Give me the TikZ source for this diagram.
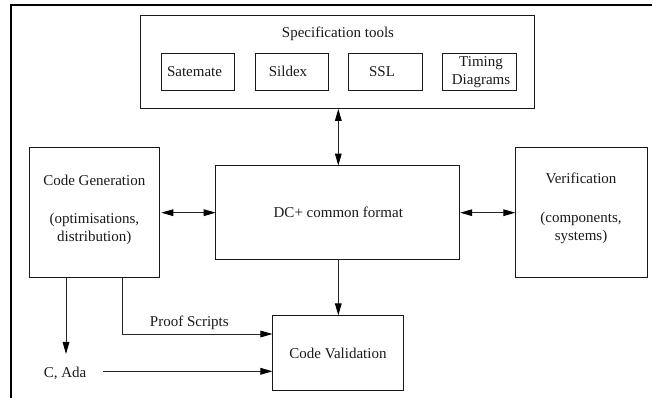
\documentclass[tikz,border=0pt]{standalone}
\usepackage{fontspec}
\setmainfont{Liberation Serif}
\usetikzlibrary{arrows.meta}
\tikzset{
  box/.style={draw=black!90,line width=0.72pt,inner sep=0pt,outer sep=0pt},
  txt/.style={anchor=base,inner sep=0pt,outer sep=0pt,text=black!90,font=\fontsize{11.25pt}{13pt}\selectfont},
  conn/.style={draw=black!85,line width=0.72pt,-{Triangle[length=9pt,width=5pt,color=black]}},
  biconn/.style={draw=black!85,line width=0.72pt,{Triangle[length=9pt,width=5pt,color=black]}-{Triangle[length=9pt,width=5pt,color=black]}},
  frameline/.style={draw=black,line width=1.6pt}
}
\begin{document}
\begin{tikzpicture}[x=0.75pt,y=-0.75pt]
\useasboundingbox (0,0) rectangle (652,398);
\draw[frameline] (11,398) -- (11,5) -- (652,5);
% boxes
\node[box,minimum width=295.5pt,minimum height=70.1pt] (spec) at (337.6,62.2) {};
\node[box,minimum width=55.1pt,minimum height=28.1pt] (sate) at (197.8,71.8) {};
\node[box,minimum width=55.3pt,minimum height=28.1pt] (sild) at (291.9,71.8) {};
\node[box,minimum width=55.5pt,minimum height=28.1pt] (ssl) at (385.5,71.8) {};
\node[box,minimum width=55.3pt,minimum height=28.1pt] (timing) at (479.2,71.8) {};
\node[box,minimum width=98.2pt,minimum height=98.2pt] (cg) at (94.5,212.5) {};
\node[box,minimum width=183pt,minimum height=70.3pt] (dc) at (337.7,212.4) {};
\node[box,minimum width=99pt,minimum height=98.2pt] (ver) at (581.3,212.5) {};
\node[box,minimum width=98.6pt,minimum height=56.2pt] (cv) at (338.2,352.8) {};
% text
\node[txt] (tspec) at (338,38) {Specification tools};
\node[txt] (tsate) at (194.5,77) {Satemate};
\node[txt] (tsild) at (288,77) {Sildex};
\node[txt] (tssl) at (382,77) {SSL};
\node[txt] (ttim) at (481,66.7) {Timing};
\node[txt] (tdia) at (481,85) {Diagrams};
\node[txt] (tcg) at (94.3,186) {Code Generation};
\node[txt] (topt) at (94.3,224) {(optimisations,};
\node[txt] (tdis) at (94.3,242) {distribution)};
\node[txt] (tver) at (581,184) {Verification};
\node[txt] (tcom) at (581,222.3) {(components,};
\node[txt] (tsys) at (581,240.7) {systems)};
\node[txt] (tdc) at (338.3,218) {DC+ common format};
\node[txt] (tcv) at (338,358.7) {Code Validation};
\node[txt] (tps) at (189.3,326.3) {Proof Scripts};
\node[txt] (tada) at (65,378) {C, Ada};
% connector end points
\coordinate (adaout) at (103,371.3);
\coordinate (adatip) at (66,354);
\coordinate (proofx) at (122,334);
\coordinate (axis) at (338.3,212.7);
% connectors
\draw[biconn] (spec.south -| axis) -- (dc.north -| axis);
\draw[biconn] ([xshift=1pt]cg.east |- axis) -- (dc.west |- axis);
\draw[biconn] ([xshift=0.4pt]dc.east |- axis) -- (ver.west |- axis);
\draw[conn] (dc.south -| axis) -- (cv.north -| axis);
\draw[conn] (cg.south -| adatip) -- (adatip);
\draw[conn] (cg.south -| proofx) |- (proofx -| cv.west);
\draw[conn] (adaout) -- (adaout -| cv.west);
\end{tikzpicture}
\end{document}
